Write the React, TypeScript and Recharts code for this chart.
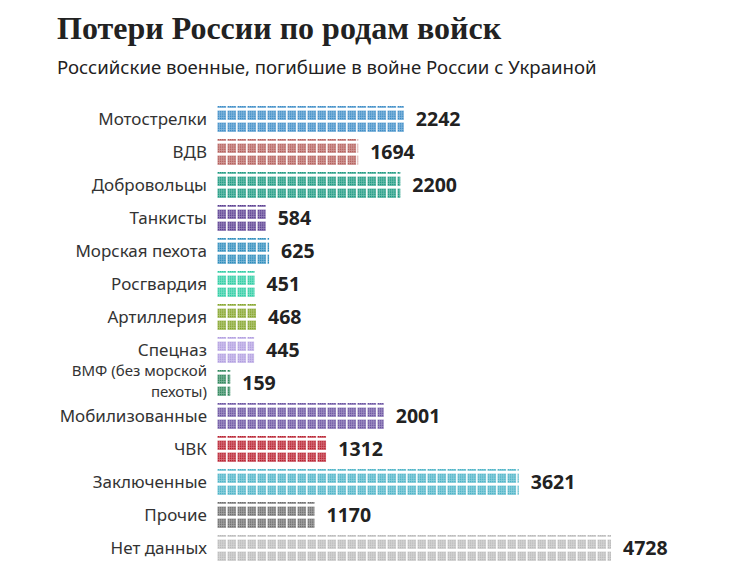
import React from 'react';
import { BarChart, Bar, XAxis, YAxis, LabelList, Cell } from 'recharts';

const categories = [
  'Мотострелки',
  'ВДВ',
  'Добровольцы',
  'Танкисты',
  'Морская пехота',
  'Росгвардия',
  'Артиллерия',
  'Спецназ',
  'ВМФ (без морской|пехоты)',
  'Мобилизованные',
  'ЧВК',
  'Заключенные',
  'Прочие',
  'Нет данных',
];

const losses = [2242, 1694, 2200, 584, 625, 451, 468, 445, 159, 2001, 1312, 3621, 1170, 4728];

const colors = [
  '#3a8bc6', '#b35c58', '#17977e', '#573a8f', '#2889bb', '#29cca2', '#82a326',
  '#b09ce0', '#2a8458', '#674f9f', '#b81c2c', '#48b2c6', '#6a6a6a', '#b9b9b9',
];

const data = categories.map((name, i) => ({ name, value: losses[i] }));

const FONT = '"Noto Sans", "Open Sans", sans-serif';

// dotted block tile, anchored to bar bottom
const DotBar = (props: any) => {
  const { x, y, width, height, index } = props;
  if (!width || width <= 0) return null;
  const color = colors[index];
  const id = `dots-${index}`;
  const dots = [];
  for (let c = 0; c < 4; c++) {
    for (let r = 0; r < 4; r++) {
      dots.push(
        <rect key={`${c}-${r}`} x={0.9 + c * 2.1} y={3.2 + r * 2.2} width={1.3} height={1.3} fill={color} />
      );
    }
  }
  return (
    <g>
      <defs>
        <pattern id={id} patternUnits="userSpaceOnUse" x={x} y={y + height} width={10} height={12}>
          <rect x={0.5} y={2.5} width={8.6} height={9.5} fill={color} opacity={0.62} />
          {dots}
        </pattern>
      </defs>
      <rect x={x} y={y} width={width} height={height} fill={`url(#${id})`} />
    </g>
  );
};

const CategoryTick = (props: any) => {
  const { x, y, payload } = props;
  const lines = String(payload.value).split('|');
  const lh = 20.8;
  const start = y - ((lines.length - 1) * lh) / 2 - (lines.length > 1 ? 1.5 : 0);
  return (
    <g>
      {lines.map((l, i) => (
        <text
          key={i}
          x={x}
          y={start + i * lh}
          dy="0.35em"
          textAnchor="end"
          fontFamily={FONT}
          fontSize={lines.length > 1 ? 15 : 17}
          fill="#333"
        >
          {l}
        </text>
      ))}
    </g>
  );
};

export default function App() {
  return (
    <div style={{ position: 'absolute', left: 0, top: 0, width: 740, height: 583, background: '#fff' }}>
      <div
        style={{
          position: 'absolute',
          left: 57,
          top: 10,
          fontFamily: '"Liberation Serif", serif',
          fontSize: 32,
          fontWeight: 700,
          color: '#222',
          whiteSpace: 'nowrap',
        }}
      >
        Потери России по родам войск
      </div>
      <div
        style={{
          position: 'absolute',
          left: 57,
          top: 54,
          fontFamily: FONT,
          fontSize: 18.6,
          color: '#222',
          whiteSpace: 'nowrap',
        }}
      >
        Российские военные, погибшие в войне России с Украиной
      </div>
      <div style={{ position: 'absolute', left: 0, top: 0 }}>
        <BarChart
          width={740}
          height={583}
          data={data}
          layout="vertical"
          margin={{ top: 102.5, right: 23, bottom: 18.5, left: 0 }}
          barCategoryGap={3.5}
        >
          <XAxis type="number" domain={[0, 6000]} hide />
          <YAxis
            type="category"
            dataKey="name"
            width={217}
            axisLine={false}
            tickLine={false}
            tickSize={0}
            tickMargin={10}
            interval={0}
            tick={<CategoryTick />}
          />
          <Bar dataKey="value" shape={<DotBar />} isAnimationActive={false}>
            {data.map((d, i) => (
              <Cell key={d.name} fill={colors[i]} />
            ))}
            <LabelList
              dataKey="value"
              position="right"
              offset={12}
              fontFamily={FONT}
              fontSize={19.5}
              fontWeight={700}
              fill="#222"
            />
          </Bar>
        </BarChart>
      </div>
    </div>
  );
}
